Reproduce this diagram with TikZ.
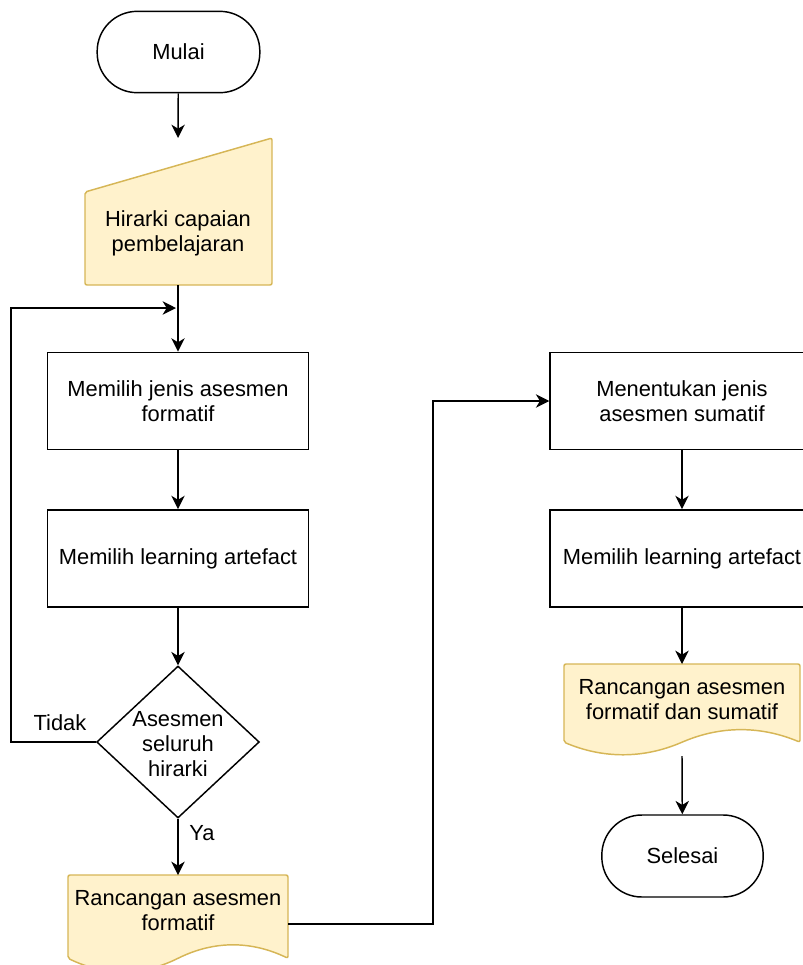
\documentclass[tikz,border=0pt]{standalone}
\usepackage{fontspec}
\setmainfont{Liberation Sans}
\usetikzlibrary{shapes.geometric,arrows.meta}
\definecolor{notefill}{HTML}{FFF2CC}
\definecolor{notedraw}{HTML}{D6B656}
\tikzset{
  base/.style={font=\fontsize{16.4}{18.8}\selectfont, align=center, inner sep=0pt},
  terminal/.style={base, draw, line width=1.1pt, rounded corners=30pt, minimum width=122pt, minimum height=61pt},
  process/.style={base, draw, line width=1.1pt, minimum width=196pt, minimum height=73pt},
  decision/.style={base, draw, line width=1.1pt, shape=diamond, minimum width=122pt, minimum height=114pt},
  data/.style={draw=notedraw, fill=notefill, line width=1.1pt, rounded corners=1.5pt},
  arrow/.style={line width=1.1pt, -{Stealth[length=10pt, width=10pt, inset=3pt]}}
}
\begin{document}
\begin{tikzpicture}[x=0.75pt, y=-0.75pt]
\useasboundingbox (0,0) rectangle (803,965);
\node[terminal] (mulai) at (178.5,52) {Mulai};
\filldraw[data] (85,192)--(272,138)--(272,285)--(85,285)--cycle;
\node[base] (hirarki) at (178,233) {Hirarki capaian\\pembelajaran};
\coordinate (hirtop) at (178,138);
\coordinate (hirbot) at (178,285);
\node[process] (formatif) at (178,401) {Memilih jenis asesmen\\formatif};
\node[process] (artefak) at (178,558.5) {Memilih learning artefact};
\node[decision] (cek) at (178,742) {};
\node[base] (cektext) at (178,744) {Asesmen\\seluruh\\hirarki};
\coordinate (loopin) at (176,308);
\filldraw[data] (68,875)--(288,875)--(288,958.3)
.. controls (251.3,940.6) and (214.7,940.6) .. (178,958.3)
.. controls (141.3,976) and (104.7,976) .. (68,958.3)--cycle;
\node[base] (rancangan) at (178,911) {Rancangan asesmen\\formatif};
\coordinate (rantop) at (178,875);
\coordinate (ranright) at (288,924);
\draw[arrow] (mulai) -- (hirtop);
\draw[arrow] (hirbot) -- (formatif);
\draw[arrow] (formatif) -- (artefak);
\draw[arrow] (artefak) -- (cek);
\draw[arrow] (cek.west) -- ++(-85,0) |- (loopin);
\draw[arrow] (cek.south) -- (rantop);
\node[base] (tidak) at (60,723) {Tidak};
\node[base] (ya) at (202,833) {Ya};
%
\node[process, minimum width=198pt] (sumatif) at (682,401) {Menentukan jenis\\asesmen sumatif};
\node[process, minimum width=198pt] (artefak2) at (682,558.5) {Memilih learning artefact};
\filldraw[data] (564,664)--(800,664)--(800,742.2)
.. controls (760.7,725.7) and (721.3,725.7) .. (682,742.2)
.. controls (642.7,758.7) and (603.3,758.7) .. (564,742.2)--cycle;
\node[base] (rancangan2) at (682,700) {Rancangan asesmen\\formatif dan sumatif};
\coordinate (ran2top) at (682,664);
\coordinate (ran2bot) at (682,756);
\node[terminal, minimum width=121pt, minimum height=61.5pt] (selesai) at (682.5,856) {Selesai};
\draw[arrow] (ranright) -- ++(145,0) |- (sumatif.west);
\draw[arrow] (sumatif) -- (artefak2);
\draw[arrow] (artefak2) -- (ran2top);
\draw[arrow] (ran2bot) -- (selesai);
\end{tikzpicture}
\end{document}
